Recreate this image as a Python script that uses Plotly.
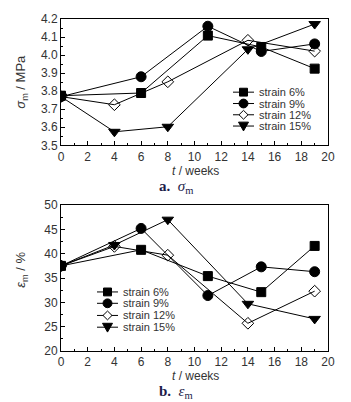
import plotly.graph_objects as go

# ---- data ----
series_names = ["strain 6%", "strain 9%", "strain 12%", "strain 15%"]

t_6 = [0, 6, 11, 15, 19]
t_9 = [0, 6, 11, 15, 19]
t_12 = [0, 4, 8, 14, 19]
t_15 = [0, 4, 8, 14, 19]

sigma_6 = [3.775, 3.79, 4.108, 4.045, 3.925]
sigma_9 = [3.77, 3.88, 4.16, 4.02, 4.062]
sigma_12 = [3.77, 3.725, 3.852, 4.082, 4.022]
sigma_15 = [3.77, 3.575, 3.603, 4.032, 4.172]

eps_6 = [37.5, 40.8, 35.4, 32.1, 41.6]
eps_9 = [37.5, 45.2, 31.4, 37.3, 36.3]
eps_12 = [37.5, 41.5, 39.7, 25.7, 32.3]
eps_15 = [37.5, 41.8, 47.0, 29.7, 26.6]

x_ticks = [0, 2, 4, 6, 8, 10, 12, 14, 16, 18, 20]
sigma_ticks = [3.5, 3.6, 3.7, 3.8, 3.9, 4.0, 4.1, 4.2]
eps_ticks = [20, 25, 30, 35, 40, 45, 50]

# ---- styles / layout constants ----
symbols = ["square", "circle", "diamond-open", "triangle-down"]
msizes = [9, 10, 9, 10]
FONT = "Liberation Sans, Arial, sans-serif"
TXT = "#333333"
CAP = "#1c1c4a"
W, H = 351, 402
ML, MR, MT, MB = 61, 23, 12, 51
PW = W - ML - MR
PH = H - MT - MB


def px(xp):
    return (xp - ML) / PW


def py(yp):
    return (H - MB - yp) / PH


fig = go.Figure()

top = [(t_6, sigma_6), (t_9, sigma_9), (t_12, sigma_12), (t_15, sigma_15)]
bot = [(t_6, eps_6), (t_9, eps_9), (t_12, eps_12), (t_15, eps_15)]

for ax, data in (("", top), ("2", bot)):
    for i, (x, y) in enumerate(data):
        fig.add_trace(go.Scatter(
            x=x, y=y, mode="lines+markers", name=series_names[i], showlegend=False,
            line=dict(color="black", width=1),
            marker=dict(symbol=symbols[i], size=msizes[i], color="black",
                        line=dict(color="black", width=1)),
            xaxis="x" + ax, yaxis="y" + ax))

axis_common = dict(
    showline=True, linecolor="black", linewidth=1, mirror=True,
    ticks="inside", ticklen=4, tickcolor="black", showgrid=False, zeroline=False,
    tickfont=dict(family=FONT, size=12, color=TXT),
)

xa = dict(axis_common, range=[0, 20], tickvals=x_ticks,
          minor=dict(dtick=1, ticks="inside", ticklen=2, tickcolor="black"))

# ---- manual legends (compact spacing like the reference) ----
shapes = []
annotations = []


def legend_block(x_line0, x_line1, x_text, rows):
    xm = (x_line0 + x_line1) / 2
    for i, yp in enumerate(rows):
        shapes.append(dict(type="line", xref="paper", yref="paper",
                           x0=px(x_line0), x1=px(x_line1), y0=py(yp), y1=py(yp),
                           line=dict(color="black", width=1)))
        s = symbols[i]
        if s == "square":
            r = 4
            shapes.append(dict(type="rect", xref="paper", yref="paper",
                               x0=px(xm - r), x1=px(xm + r), y0=py(yp + r), y1=py(yp - r),
                               fillcolor="black", line=dict(color="black", width=1)))
        elif s == "circle":
            r = 4.5
            shapes.append(dict(type="circle", xref="paper", yref="paper",
                               x0=px(xm - r), x1=px(xm + r), y0=py(yp + r), y1=py(yp - r),
                               fillcolor="black", line=dict(color="black", width=1)))
        elif s == "diamond-open":
            r = 4.5
            path = "M {} {} L {} {} L {} {} L {} {} Z".format(
                px(xm - r), py(yp), px(xm), py(yp - r), px(xm + r), py(yp), px(xm), py(yp + r))
            shapes.append(dict(type="path", xref="paper", yref="paper", path=path,
                               fillcolor="white", line=dict(color="black", width=1)))
        else:
            r = 5
            path = "M {} {} L {} {} L {} {} Z".format(
                px(xm - r), py(yp - 4), px(xm + r), py(yp - 4), px(xm), py(yp + 5))
            shapes.append(dict(type="path", xref="paper", yref="paper", path=path,
                               fillcolor="black", line=dict(color="black", width=1)))
        annotations.append(dict(text=series_names[i], xref="paper", yref="paper",
                                x=px(x_text), y=py(yp), xanchor="left", yanchor="middle",
                                showarrow=False, font=dict(family=FONT, size=11, color=TXT)))


legend_block(233, 254, 257, [86.7, 98.3, 109.8, 121.3])
legend_block(97, 118, 121, [290.7, 302.3, 314.7, 326.7])

# axis titles
for yp in (167, 377):
    annotations.append(dict(text="<i>t</i> / weeks", xref="paper", yref="paper",
                            x=px(195), y=py(yp), xanchor="center", yanchor="middle",
                            showarrow=False, font=dict(family=FONT, size=12, color=TXT)))
annotations.append(dict(text="<i>σ</i><sub>m</sub> / MPa", xref="paper", yref="paper",
                        x=px(22), y=py(76), xanchor="center", yanchor="middle", textangle=-90,
                        showarrow=False, font=dict(family=FONT, size=13, color=TXT)))
annotations.append(dict(text="<i>ε</i><sub>m</sub> / %", xref="paper", yref="paper",
                        x=px(22), y=py(268), xanchor="center", yanchor="middle", textangle=-90,
                        showarrow=False, font=dict(family=FONT, size=13, color=TXT)))
# captions
annotations.append(dict(text="<b>a.</b>  <i>σ</i><sub>m</sub>", xref="paper", yref="paper",
                        x=px(176), y=py(184), xanchor="center", yanchor="middle", showarrow=False,
                        font=dict(family="Liberation Serif", size=15, color=CAP)))
annotations.append(dict(text="<b>b.</b>  <i>ε</i><sub>m</sub>", xref="paper", yref="paper",
                        x=px(176), y=py(393), xanchor="center", yanchor="middle", showarrow=False,
                        font=dict(family="Liberation Serif", size=15, color=CAP)))

fig.update_layout(
    width=W, height=H,
    margin=dict(l=ML, r=MR, t=MT, b=MB),
    paper_bgcolor="white", plot_bgcolor="white",
    showlegend=False,
    xaxis=dict(xa, domain=[0, 1], anchor="y"),
    yaxis=dict(axis_common, domain=[py(141), 1.0], anchor="x", range=[3.5, 4.2],
               tickvals=sigma_ticks, tickformat=".1f",
               minor=dict(dtick=0.05, ticks="inside", ticklen=2, tickcolor="black")),
    xaxis2=dict(xa, domain=[0, 1], anchor="y2"),
    yaxis2=dict(axis_common, domain=[0.0, py(202)], anchor="x2", range=[20, 50],
                tickvals=eps_ticks,
                minor=dict(dtick=2.5, ticks="inside", ticklen=2, tickcolor="black")),
    shapes=shapes,
    annotations=annotations,
)

fig.write_html("out.html")
